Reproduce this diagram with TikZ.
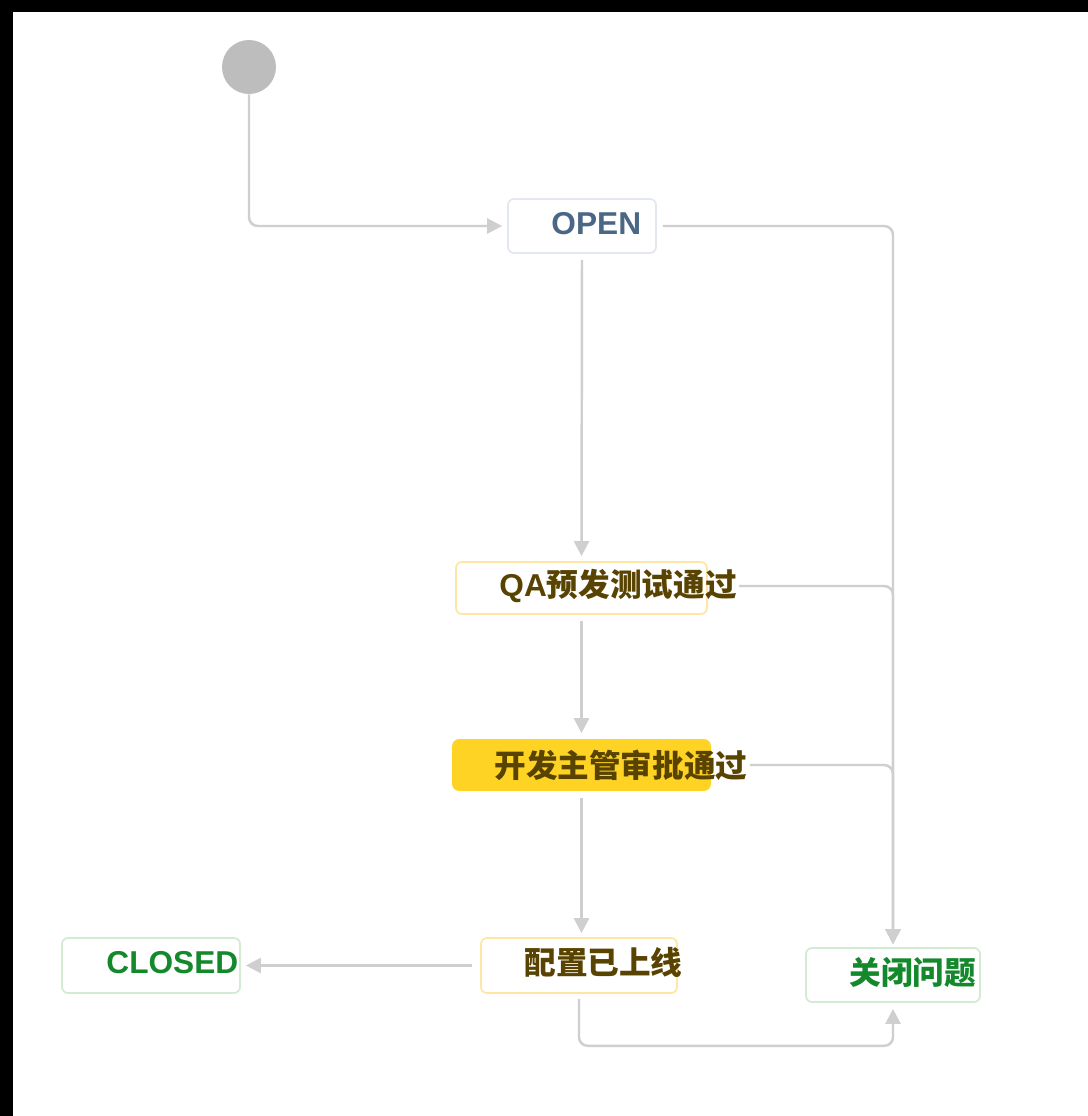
\documentclass[tikz,border=0pt]{standalone}
\usepackage{xcolor}
\usepackage{fontspec}
\setmainfont{Liberation Sans}
\newfontfamily\cjk{Noto Sans CJK SC}
\usepackage{tikz}
\usetikzlibrary{arrows.meta}

\definecolor{xian}{HTML}{CFCFCF}
\definecolor{kaishi}{HTML}{BDBDBD}
\definecolor{openbian}{HTML}{E3E8EE}
\definecolor{openzi}{HTML}{4A6785}
\definecolor{huangbian}{HTML}{FFE7A3}
\definecolor{huangtian}{HTML}{FFD324}
\definecolor{huangzi}{HTML}{594300}
\definecolor{lvbian}{HTML}{D2EBD2}
\definecolor{lvzi}{HTML}{14892C}

\begin{document}
\begin{tikzpicture}[x=0.02cm, y=-0.02cm,
  zhuangtai/.style={draw, rounded corners=3.4pt, line width=1pt, inner sep=0pt},
  wenzi/.style={anchor=west, inner sep=0pt, font=\bfseries\fontsize{18}{20}\selectfont},
  jiantou/.style={draw=xian, line width=1.4pt, rounded corners=5pt, -{Triangle[length=0.3cm, width=0.3cm]}}]
\fill[white] (0,0) rectangle (1088,1116);
\fill[black] (0,0) rectangle (1088,12);
\fill[black] (0,0) rectangle (13,1116);
\useasboundingbox (0,0) rectangle (1088,1116);
% states
\node[circle, fill=kaishi, minimum size=1.08cm, inner sep=0pt] (start) at (249,67) {};
\node[zhuangtai, draw=openbian, minimum width=2.96cm, minimum height=1.08cm] (open) at (582,226) {};
\node[wenzi, text=openzi] (opent) at ([xshift=0.88cm, yshift=0.05cm]open.west) {OPEN};
\node[zhuangtai, draw=huangbian, minimum width=5.02cm, minimum height=1.04cm] (qa) at (581.5,588) {};
\node[wenzi, text=huangzi] (qat) at ([xshift=0.88cm, yshift=0.04cm]qa.west) {QA{\cjk 预发测试通过}};
\node[zhuangtai, draw=huangtian, fill=huangtian, minimum width=5.14cm, minimum height=1.0cm] (kf) at (581.5,765) {};
\node[wenzi, text=huangzi] (kft) at ([xshift=0.84cm]kf.west) {\cjk 开发主管审批通过};
\node[zhuangtai, draw=huangbian, minimum width=3.92cm, minimum height=1.1cm] (pz) at (579,965.5) {};
\node[wenzi, text=huangzi] (pzt) at ([xshift=0.88cm, yshift=0.06cm]pz.west) {\cjk 配置已上线};
\node[zhuangtai, draw=lvbian, minimum width=3.56cm, minimum height=1.1cm] (closed) at (151,965.5) {};
\node[wenzi, text=lvzi] (closedt) at ([xshift=0.9cm, yshift=0.06cm]closed.west) {CLOSED};
\node[zhuangtai, draw=lvbian, minimum width=3.48cm, minimum height=1.08cm] (close) at (893,975) {};
\node[wenzi, text=lvzi] (closet) at ([xshift=0.88cm, yshift=0.06cm]close.west) {\cjk 关闭问题};
% transitions
\draw[jiantou, shorten >=0.1cm] (start) |- (open);
\draw[jiantou, shorten <=0.12cm, shorten >=0.1cm] (open.south) -- (qa.north);
\draw[jiantou, shorten <=0.12cm, shorten >=0.12cm] (qa.south) -- (kf.north);
\draw[jiantou, shorten <=0.14cm, shorten >=0.08cm] (kf.south) -- (kf.south |- pz.north);
\draw[jiantou, shorten <=0.12cm, shorten >=0.06cm] (open.east) -| (close.north);
\draw[jiantou, shorten <=0.04cm, shorten >=0.06cm] (qat.east) -| (close.north);
\draw[jiantou, shorten <=0.04cm, shorten >=0.06cm] (kft.east) -| (close.north);
\draw[jiantou, shorten <=0.16cm, shorten >=0.1cm] (pz.west) -- (closed.east);
\draw[jiantou, shorten <=0.1cm, shorten >=0.12cm] (pz.south) -- ++(0,52) -| (close.south);
\end{tikzpicture}
\end{document}
